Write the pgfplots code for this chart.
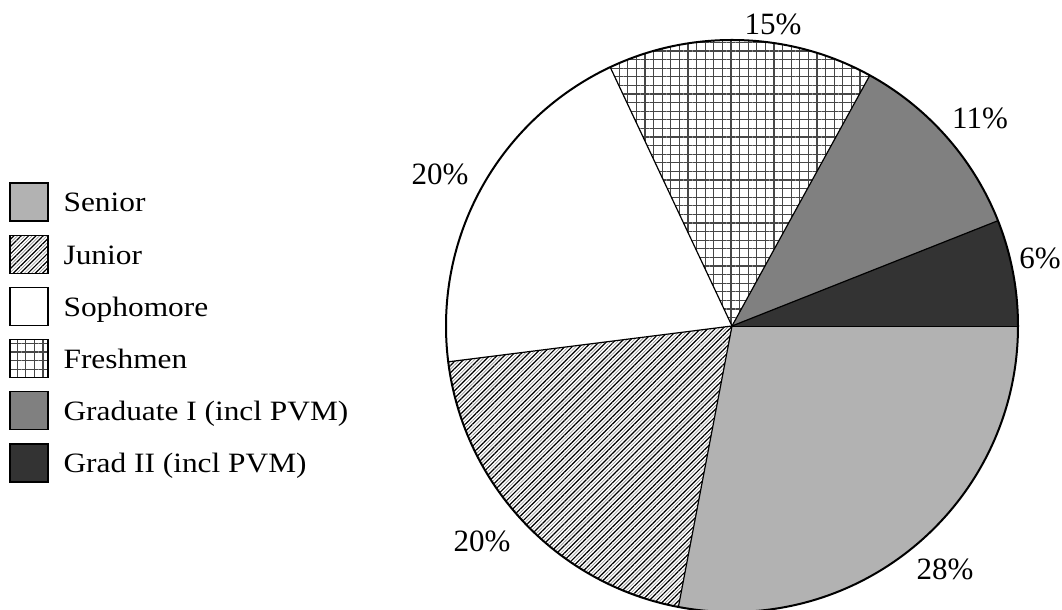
\documentclass[border=0pt]{standalone}
\usepackage{pgfplots}
\pgfplotsset{compat=1.18}
\usepackage{pgfplotstable}
\usetikzlibrary{patterns.meta}
\usepackage{fontspec}
\setmainfont{Liberation Serif}
\newfontfamily\legfont{Liberation Serif}[FakeStretch=1.12]

\pgfplotstableread{
name value
Senior 28
Junior 20
Sophomore 20
Freshmen 15
GraduateI 11
GradII 6
}\piedata
\pgfplotstableset{create on use/cum/.style={create col/expr accum={\pgfmathaccuma+\thisrow{value}}{0}}}

\tikzset{
  slice0/.style={fill=black!30},
  slice1/.style={pattern={Lines[angle=45,distance=2.6pt,line width=0.6pt]},pattern color=black,
    postaction={pattern={Lines[angle=45,distance=2.6pt,line width=0.3pt,xshift=1.84pt]},pattern color=black!45}},
  slice2/.style={fill=white},
  slice3/.style={pattern={Hatch[distance=4.3pt,line width=0.55pt]},pattern color=black!72},
  slice4/.style={fill=black!50},
  slice5/.style={fill=black!80},
}

\begin{document}
\begin{tikzpicture}
\foreach \i in {0,...,5}{
  \pgfplotstablegetelem{\i}{cum}\of\piedata
  \pgfmathsetmacro\e{-3.6*\pgfplotsretval}
  \pgfplotstablegetelem{\i}{value}\of\piedata
  \pgfmathsetmacro\s{\e+3.6*\pgfplotsretval}
  \expandafter\xdef\csname endA\i\endcsname{\e}
  \expandafter\xdef\csname startA\i\endcsname{\s}
}
\begin{axis}[
  x=0.5pt, y=0.5pt,
  xmin=0, xmax=1062, ymin=0, ymax=610,
  hide axis, clip=false,
  legend style={draw=none, fill=none, at={(axis cs:9,428)}, anchor=north west,
    font=\legfont\fontsize{14}{16}\selectfont, row sep=6.5pt, inner sep=0pt,
    nodes={inner sep=0pt}, column sep=7.5pt, cells={anchor=base west}},
]
\pgfplotsinvokeforeach{0,...,5}{
  \addlegendimage{legend image code/.code={\draw[slice#1, draw=black, line width=0.6pt] (0pt,-4.5pt) rectangle (19pt,14.5pt);}}
}
\pgfplotsinvokeforeach{0,...,5}{
  \edef\tmp{\noexpand\fill[slice#1] (axis cs:732,284) -- ++(\csname startA#1\endcsname:143pt) arc[start angle=\csname startA#1\endcsname, end angle=\csname endA#1\endcsname, radius=143pt] -- cycle;
  \noexpand\draw[line width=0.6pt] (axis cs:732,284) -- ++(\csname startA#1\endcsname:143pt);}
  \tmp
}
\draw[line width=1pt] (axis cs:732,284) circle[radius=143pt];
\legend{Senior,Junior,Sophomore,Freshmen,Graduate I (incl PVM),Grad II (incl PVM)}
\node[font=\fontsize{15.5}{17}\selectfont] at (axis cs:773,585.5) {15\%};
\node[font=\fontsize{15.5}{17}\selectfont] at (axis cs:980,492) {11\%};
\node[font=\fontsize{15.5}{17}\selectfont] at (axis cs:1040,352) {6\%};
\node[font=\fontsize{15.5}{17}\selectfont] at (axis cs:945,41) {28\%};
\node[font=\fontsize{15.5}{17}\selectfont] at (axis cs:482,69) {20\%};
\node[font=\fontsize{15.5}{17}\selectfont] at (axis cs:440,436) {20\%};
\end{axis}
\pgfresetboundingbox
\useasboundingbox (0,0) rectangle (531pt,305pt);
\end{tikzpicture}
\end{document}
